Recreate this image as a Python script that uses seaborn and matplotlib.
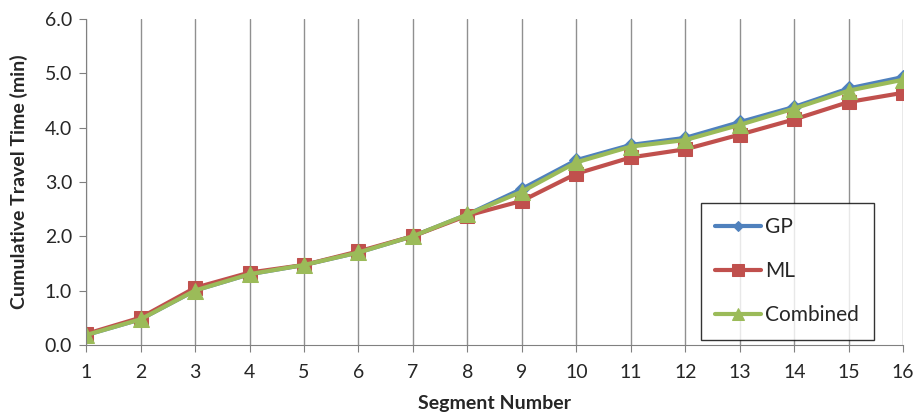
import matplotlib
matplotlib.use("Agg")
import matplotlib.pyplot as plt
import seaborn as sns
import pandas as pd

segments = list(range(1, 17))
gp = [0.18, 0.47, 1.00, 1.30, 1.47, 1.70, 2.00, 2.40, 2.87, 3.40, 3.68, 3.81, 4.10, 4.38, 4.72, 4.93]
ml = [0.20, 0.50, 1.05, 1.33, 1.47, 1.72, 2.00, 2.38, 2.65, 3.15, 3.45, 3.60, 3.87, 4.15, 4.47, 4.64]
combined = [0.18, 0.47, 1.00, 1.30, 1.47, 1.70, 2.00, 2.40, 2.82, 3.36, 3.65, 3.77, 4.05, 4.35, 4.68, 4.88]
series_names = ["GP", "ML", "Combined"]
colors = ["#4F81BD", "#C0504D", "#9BBB59"]
markers = ["D", "s", "^"]
msizes = [7, 10, 11]

df = pd.DataFrame({"Segment": segments * 3,
                   "Time": gp + ml + combined,
                   "Series": sum([[n] * len(segments) for n in series_names], [])})

sns.set_style("white")
plt.rcParams['font.family'] = ['Lato', 'DejaVu Sans']

fig = plt.figure(figsize=(9.16, 4.2), dpi=100)
ax = fig.add_axes([0.094, 0.179, 0.892, 0.776])

for name, c, m, ms in zip(series_names, colors, markers, msizes):
    sub = df[df["Series"] == name]
    sns.lineplot(data=sub, x="Segment", y="Time", ax=ax, color=c, marker=m,
                 markersize=ms, markeredgecolor=c, linewidth=3, label=name)

ax.set_xlim(1, 16)
ax.set_ylim(0, 6)
ax.set_xticks(segments)
ax.set_yticks([0, 1, 2, 3, 4, 5, 6])
ax.set_yticklabels([f"{v:.1f}" for v in [0, 1, 2, 3, 4, 5, 6]])
ax.tick_params(axis='both', labelsize=14, length=5, color="#808080", direction='out',
               bottom=True, left=True)
ax.tick_params(axis='x', pad=9)
ax.tick_params(axis='y', pad=5)
ax.xaxis.grid(True, color="#909090", linewidth=1)
ax.yaxis.grid(False)
for s in ["top", "right"]:
    ax.spines[s].set_visible(False)
for s in ["left", "bottom"]:
    ax.spines[s].set_color("#808080")
ax.set_xlabel("Segment Number", fontsize=14, fontweight="bold", labelpad=10)
ax.set_ylabel("Cumulative Travel Time (min)", fontsize=14, fontweight="bold", labelpad=12)

leg = ax.legend(loc="lower right", bbox_to_anchor=(0.964, 0.015), borderaxespad=0,
                fontsize=15, frameon=True, fancybox=False, edgecolor="black",
                labelspacing=1.15, borderpad=0.7, handlelength=2.2, handletextpad=0.2,
                markerscale=0.8)
leg.get_frame().set_linewidth(1)

fig.savefig("out.png", dpi=100)
